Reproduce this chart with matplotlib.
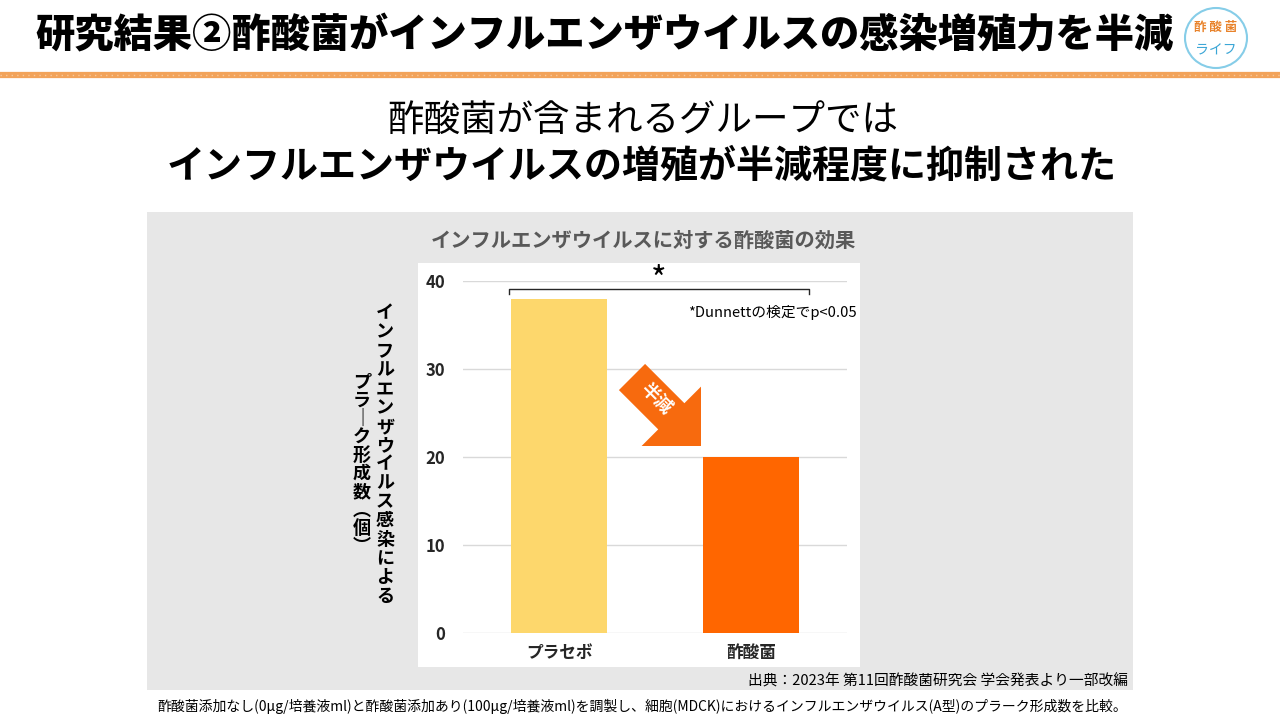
import matplotlib.pyplot as plt
from matplotlib.patches import Rectangle, FancyArrow, Ellipse

plt.rcParams['font.family'] = ['Noto Sans CJK JP', 'DejaVu Sans']

# データ
categories = ['プラセボ', '酢酸菌']
plaque_counts = [38, 20]
bar_colors = ['#FDD76C', '#FF6600']
y_ticks = [0, 10, 20, 30, 40]

main_title = '研究結果②酢酸菌がインフルエンザウイルスの感染増殖力を半減'
sub_line1 = '酢酸菌が含まれるグループでは'
sub_line2 = 'インフルエンザウイルスの増殖が半減程度に抑制された'
chart_title = 'インフルエンザウイルスに対する酢酸菌の効果'
ylabel_col1 = 'インフルエンザウイルス感染による'
ylabel_col2 = 'プラ｜ク形成数︵個︶'
note_sig = '*Dunnettの検定でp<0.05'
source = '出典：2023年 第11回酢酸菌研究会 学会発表より一部改編'
footnote = ('酢酸菌添加なし(0μg/培養液ml)と酢酸菌添加あり(100μg/培養液ml)を調製し、'
            '細胞(MDCK)におけるインフルエンザウイルス(A型)のプラーク形成数を比較。')

W, H = 1280, 720
fig = plt.figure(figsize=(W / 100, H / 100), dpi=100)
fig.patch.set_facecolor('white')


def px(x, y):
    # ピクセル座標 -> figure座標
    return x / W, 1 - y / H


def box(x0, y0, x1, y1, color, z=0):
    fig.add_artist(Rectangle(px(x0, y1), (x1 - x0) / W, (y1 - y0) / H,
                             transform=fig.transFigure, color=color, zorder=z, lw=0))


# タイトル部分
fig.text(*px(35, 36), main_title, fontsize=28.3, fontweight='heavy', ha='left', va='center')
fig.add_artist(plt.Line2D([0, 1], [1 - 75 / H] * 2, transform=fig.transFigure,
                          color='#F2A35A', lw=4.5))
fig.add_artist(plt.Line2D([0, 1], [1 - 75 / H] * 2, transform=fig.transFigure,
                          color='#F8C89A', lw=1, ls=(0, (1, 3))))

# ロゴ
fig.add_artist(Ellipse(px(1216, 38), 62 / W, 60 / H, transform=fig.transFigure,
                       facecolor='white', edgecolor='#86CDE8', lw=1.5))
fig.text(*px(1216, 27), '酢 酸 菌', fontsize=9, color='#E8822A', fontweight='bold',
         ha='center', va='center')
fig.text(*px(1216, 50), 'ライフ', fontsize=10, color='#3BA6D6', ha='center', va='center')

# サブタイトル
fig.text(*px(643, 122), sub_line1, fontsize=26.3, ha='center', va='center')
fig.text(*px(642, 166), sub_line2, fontsize=27.4, fontweight='bold', ha='center', va='center')

# グレーパネルと白い描画領域
box(147, 212, 1133, 690, '#E7E7E7')
box(418, 263, 860, 667, 'white', z=0.5)

fig.text(*px(643, 240), chart_title, fontsize=14.6, fontweight='bold', color='#595959',
         ha='center', va='center')

ax = fig.add_axes([463 / W, 1 - 633 / H, 384 / W, 352 / H])
ax.set_facecolor('white')
ax.set_zorder(1)
x = list(range(len(categories)))
ax.bar(x, plaque_counts, width=0.505, color=bar_colors, zorder=2)
ax.set_xlim(-0.5, 1.5)
ax.set_ylim(0, 40)
ax.set_yticks(y_ticks)
ax.yaxis.grid(True, color='#D9D9D9', lw=1, zorder=0)
ax.set_axisbelow(True)
for s in ax.spines.values():
    s.set_visible(False)
ax.tick_params(length=0)
ax.tick_params(axis='y', pad=13, labelsize=12, labelcolor='#262626')
ax.tick_params(axis='x', pad=8, labelsize=12, labelcolor='#262626')
ax.set_xticks(x)
ax.set_xticklabels(categories, fontweight='bold')
for t in ax.get_yticklabels():
    t.set_fontweight('bold')

# 有意差ブラケット
ax.plot([-0.26, -0.26, 1.30, 1.30], [38.55, 39.1, 39.1, 38.55], color='#262626',
        lw=1, clip_on=False)
ax.text(0.52, 40.0, '*', fontsize=24, ha='center', va='center', clip_on=False)
fig.text(*px(857, 312), note_sig, fontsize=10.6, ha='right', va='center', zorder=3)

# 縦書きのY軸ラベル
for i, ch in enumerate(ylabel_col1):
    fig.text(*px(385, 313 + i * 18.9), ch, fontsize=13, fontweight='bold',
             ha='center', va='center')
for i, ch in enumerate(ylabel_col2):
    fig.text(*px(362, 382 + i * 18.3), ch, fontsize=13, fontweight='bold',
             ha='center', va='center')

# 矢印
arrow = FancyArrow(6.32, 3.43, 0.69, -0.69, width=0.37, head_width=0.84,
                   head_length=0.42, length_includes_head=True,
                   transform=fig.dpi_scale_trans, color='#F76A0E', lw=0, zorder=4)
fig.add_artist(arrow)
fig.text(*px(656, 398), '半減', fontsize=13, fontweight='bold', color='white',
         rotation=-45, ha='center', va='center', zorder=5)

# 出典と注記
fig.text(*px(1128, 681), source, fontsize=10.6, ha='right', va='center')
fig.text(*px(157, 706), footnote, fontsize=10, ha='left', va='center')

fig.savefig('out.png', dpi=100)
